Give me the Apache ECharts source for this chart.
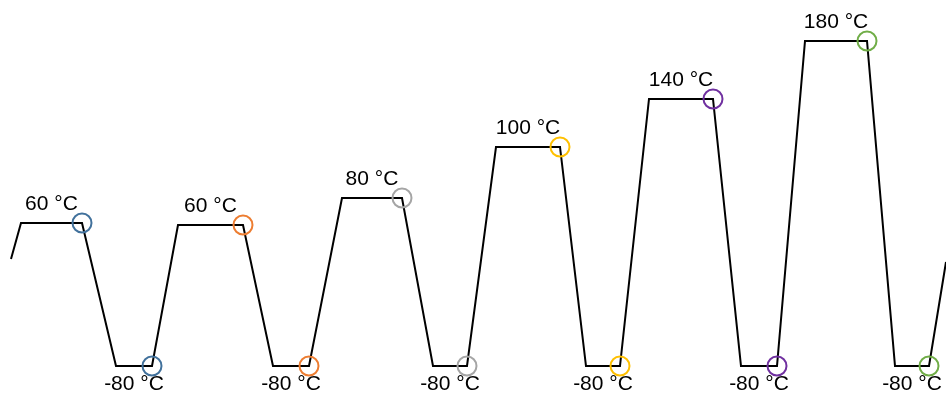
<!DOCTYPE html>
<html>
<head>
<meta charset="utf-8">
<script src="https://cdn.jsdelivr.net/npm/echarts@6/dist/echarts.min.js"></script>
<style>
html,body{margin:0;padding:0;background:#fff;}
#c{width:946px;height:394px;}
</style>
</head>
<body>
<div id="c"></div>
<script>
// Schematic temperature profile (time in arbitrary units, level in arbitrary height units)
const time  = [11,21,82,116,152,178,243,273,309,342,402,433,467,496,560,586,620,649,713,741,777,805,867,895,929,946];
const level = [135,171,171,28,28,169,169,28,28,196,196,28,28,247,247,28,28,295,295,28,28,353,353,28,28,132];

// Plateau index pairs (start, end) for hot holds and cold holds
const hotPlateaus  = [[1,2],[5,6],[9,10],[13,14],[17,18],[21,22]];
const coldPlateaus = [[3,4],[7,8],[11,12],[15,16],[19,20],[23,24]];
const hotLabels  = ['60 °C','60 °C','80 °C','100 °C','140 °C','180 °C'];
const coldLabels = ['-80 °C','-80 °C','-80 °C','-80 °C','-80 °C','-80 °C'];
const cycleColors = ['#41719C','#ED7D31','#A5A5A5','#FFC000','#7030A0','#70AD47'];

const FONT = 'Liberation Sans';

const lineData = time.map((t, i) => [t, level[i]]);

const series = [{
  type: 'line',
  data: lineData,
  symbol: 'none',
  lineStyle: { color: '#000', width: 2, join: 'miter' },
  silent: true,
  z: 2
}];

// Circles at the end of each hold, one colour per cycle
hotPlateaus.forEach((hp, k) => {
  const cp = coldPlateaus[k];
  series.push({
    type: 'scatter',
    data: [[time[hp[1]], level[hp[1]]], [time[cp[1]], level[cp[1]]]],
    symbol: 'circle',
    symbolSize: 19,
    itemStyle: { color: 'rgba(0,0,0,0)', borderColor: cycleColors[k], borderWidth: 2, opacity: 1 },
    silent: true,
    z: 3
  });
});

// Labels centred over each plateau
const hotLabelData = hotPlateaus.map((p, k) => ({
  value: [(time[p[0]] + time[p[1]]) / 2, level[p[0]]],
  name: hotLabels[k]
}));
const coldLabelData = coldPlateaus.map((p, k) => ({
  value: [(time[p[0]] + time[p[1]]) / 2, level[p[0]]],
  name: coldLabels[k]
}));
const labelStyle = { color: '#000', fontSize: 21, fontFamily: FONT };
series.push({
  type: 'scatter', data: hotLabelData, symbolSize: 0, silent: true, z: 4,
  itemStyle: { opacity: 1 },
  label: Object.assign({ show: true, position: 'top', distance: 8, formatter: p => p.name }, labelStyle)
});
series.push({
  type: 'scatter', data: coldLabelData, symbolSize: 0, silent: true, z: 4,
  itemStyle: { opacity: 1 },
  label: Object.assign({ show: true, position: 'bottom', distance: 8, formatter: p => p.name }, labelStyle)
});

const chart = echarts.init(document.getElementById('c'));
chart.setOption({
  animation: false,
  backgroundColor: '#fff',
  grid: { left: 0, right: 0, top: 0, bottom: 0, containLabel: false },
  xAxis: { type: 'value', min: 0, max: 946, show: false },
  yAxis: { type: 'value', min: 0, max: 394, show: false },
  series: series
});
</script>
</body>
</html>
